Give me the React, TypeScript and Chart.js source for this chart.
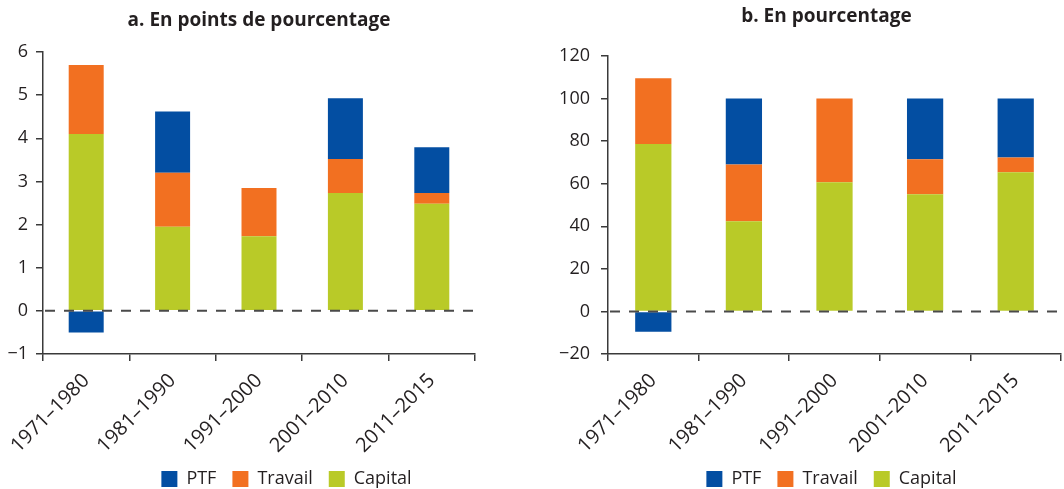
import React, { useEffect, useRef } from "react";
import { Chart, registerables } from "chart.js";

Chart.register(...registerables);

const categories = ["1971–1980", "1981–1990", "1991–2000", "2001–2010", "2011–2015"];
const seriesNames = ["Capital", "Travail", "PTF"];

// a. En points de pourcentage
const capitalPoints = [4.1, 1.95, 1.73, 2.73, 2.48];
const travailPoints = [1.6, 1.25, 1.12, 0.79, 0.25];
const ptfPoints = [-0.5, 1.42, 0, 1.41, 1.06];

// b. En pourcentage
const capitalPct = [78.6, 42.4, 60.7, 55.1, 65.4];
const travailPct = [30.9, 26.6, 39.3, 16.4, 6.9];
const ptfPct = [-9.5, 31, 0, 28.5, 27.7];

const titles = ["a. En points de pourcentage", "b. En pourcentage"];
const leftAxis = { min: -1, max: 6, step: 1 };
const rightAxis = { min: -20, max: 120, step: 20 };

const COLORS = { Capital: "#B9CA28", Travail: "#F27021", PTF: "#034EA2" };
const INK = "#231F20";
const AXIS = "#3a3a3a";
const FONT = "'Open Sans', sans-serif";

const overlayPlugin = {
  id: "overlay",
  afterLayout(chart: any, _args: any, opts: any) {
    const lg = chart.legend;
    if (lg && opts.legendShift) {
      lg.left += opts.legendShift;
      lg.right += opts.legendShift;
    }
  },
  afterDatasetsDraw(chart: any) {
    const { ctx, chartArea, scales } = chart;
    const y = scales.y.getPixelForValue(0);
    ctx.save();
    ctx.strokeStyle = "#4a4a4a";
    ctx.lineWidth = 2;
    ctx.setLineDash([10, 9]);
    ctx.beginPath();
    ctx.moveTo(chartArea.left + 2, y);
    ctx.lineTo(chartArea.right, y);
    ctx.stroke();
    ctx.restore();
  },
  afterDraw(chart: any, _args: any, opts: any) {
    const { ctx, chartArea } = chart;
    ctx.save();
    ctx.font = `bold ${opts.titleSize}px ${FONT}`;
    ctx.fillStyle = INK;
    ctx.textAlign = "center";
    ctx.textBaseline = "alphabetic";
    ctx.fillText(opts.title, (chartArea.left + chartArea.right) / 2 + (opts.titleDx || 0), opts.titleY);
    ctx.restore();
  },
};

type PanelProps = {
  left: number;
  width: number;
  capital: number[];
  travail: number[];
  ptf: number[];
  axis: { min: number; max: number; step: number };
  title: string;
  titleY: number;
  titleDx: number;
  titleSize: number;
  yWidth: number;
  padTop: number;
  padRight: number;
  tickPad: number;
  barPct: number;
  legendFull: boolean;
  legendShift: number;
};

function Panel(p: PanelProps) {
  const ref = useRef<HTMLCanvasElement | null>(null);
  useEffect(() => {
    if (!ref.current) return;
    const values: Record<string, number[]> = { Capital: p.capital, Travail: p.travail, PTF: p.ptf };
    const chart = new Chart(ref.current, {
      type: "bar",
      data: {
        labels: categories,
        datasets: seriesNames.map((n) => ({
          label: n,
          data: values[n],
          backgroundColor: (COLORS as any)[n],
          borderWidth: 0,
          categoryPercentage: 1,
          barPercentage: p.barPct,
        })),
      },
      plugins: [overlayPlugin as any],
      options: {
        animation: false,
        responsive: false,
        devicePixelRatio: 1,
        layout: { padding: { top: p.padTop, right: p.padRight, bottom: -9, left: 0 } },
        scales: {
          x: {
            stacked: true,
            border: { display: true, color: AXIS, width: 1.5 },
            grid: { display: true, drawOnChartArea: false, drawTicks: true, tickLength: 7, color: AXIS, lineWidth: 1.5, offset: true },
            ticks: {
              color: INK,
              font: { family: FONT, size: 20 },
              minRotation: 45,
              maxRotation: 45,
              padding: 8,
            },
            afterFit: (s: any) => {
              s.height = 100;
            },
          },
          y: {
            stacked: true,
            min: p.axis.min,
            max: p.axis.max,
            border: { display: true, color: AXIS, width: 1.5 },
            grid: { display: true, drawOnChartArea: false, drawTicks: true, tickLength: 7, color: AXIS, lineWidth: 1.5 },
            ticks: {
              stepSize: p.axis.step,
              color: INK,
              font: { family: FONT, size: 18 },
              padding: p.tickPad,
              callback: (v: any) => String(v).replace("-", "−"),
            },
            afterFit: (s: any) => {
              s.width = p.yWidth;
            },
          },
        },
        plugins: {
          tooltip: { enabled: false },
          title: { display: false },
          legend: {
            display: true,
            position: "bottom",
            reverse: true,
            fullSize: p.legendFull,
            labels: {
              color: INK,
              font: { family: FONT, size: 18 },
              boxWidth: 16,
              boxHeight: 16,
              padding: 16,
            },
          },
          overlay: {
            title: p.title,
            titleY: p.titleY,
            titleDx: p.titleDx,
            titleSize: p.titleSize,
            legendShift: p.legendShift,
          },
        } as any,
      },
    });
    return () => chart.destroy();
  }, []);
  return (
    <canvas
      ref={ref}
      width={p.width}
      height={489}
      style={{ position: "absolute", left: p.left, top: 0, width: p.width, height: 489 }}
    />
  );
}

export default function App() {
  return (
    <div style={{ position: "absolute", left: 0, top: 0, width: 1064, height: 489, background: "#fff" }}>
      <Panel
        left={0}
        width={576}
        capital={capitalPoints}
        travail={travailPoints}
        ptf={ptfPoints}
        axis={leftAxis}
        title={titles[0]}
        titleY={26}
        titleDx={0}
        titleSize={19}
        yWidth={43}
        padTop={52}
        padRight={101}
        tickPad={8}
        barPct={0.405}
        legendFull={true}
        legendShift={49}
      />
      <Panel
        left={540}
        width={524}
        capital={capitalPct}
        travail={travailPct}
        ptf={ptfPct}
        axis={rightAxis}
        title={titles[1]}
        titleY={22}
        titleDx={-8}
        titleSize={19}
        yWidth={68}
        padTop={56}
        padRight={3}
        tickPad={11}
        barPct={0.4}
        legendFull={false}
        legendShift={-3}
      />
    </div>
  );
}
